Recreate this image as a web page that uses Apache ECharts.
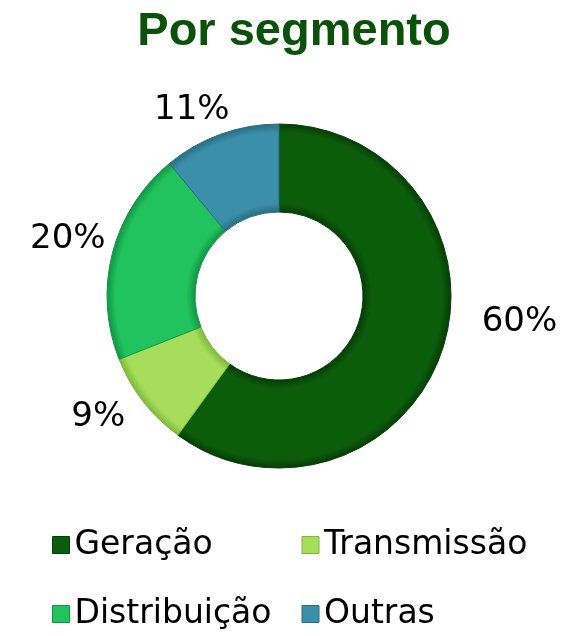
<!DOCTYPE html>
<html>
<head>
<meta charset="utf-8">
<style>
  html, body { margin: 0; padding: 0; background: #fff; }
  #chart { width: 567px; height: 636px; }
</style>
<script src="https://cdn.jsdelivr.net/npm/echarts@6/dist/echarts.min.js"></script>
</head>
<body>
<div id="chart"></div>
<script>
/* Donut "Por segmento" */
const segments = ['Geração', 'Transmissão', 'Distribuição', 'Outras'];
const shares = [60, 9, 20, 11];
const colors = ['#0b5c0b', '#a6de5c', '#20c35e', '#3b8fa9'];
const edges = ['#053d05', '#7fb83c', '#129545', '#2a6d82'];

const cx = 279, cy = 296, rIn = 84, rOut = 172;
// small nudges so the % labels sit where Excel put them
const labelNudge = [[30, -41], [-5, -11], [3, -3], [-9, 17]];

let chartDom = document.getElementById('chart');
let myChart = echarts.init(chartDom);

// shaded rim, like the bevel on the original
function rim(i) {
    const a = rIn / rOut;
    return {
        type: 'radial', x: cx, y: cy, r: rOut, global: true,
        colorStops: [
            { offset: 0, color: edges[i] },
            { offset: a, color: edges[i] },
            { offset: a + 0.05, color: colors[i] },
            { offset: 0.95, color: colors[i] },
            { offset: 1, color: edges[i] },
        ],
    };
}

let option = {
    animation: false,
    title: {
        text: 'Por segmento',
        left: 289,
        top: 4,
        textAlign: 'center',
        textStyle: {
            fontFamily: "'Liberation Sans', Arial, sans-serif",
            fontWeight: 'bold',
            fontSize: 47,
            color: '#0a5209',
        },
    },
    legend: {
        left: 47,
        top: 515,
        width: 520,
        itemWidth: 17,
        itemHeight: 17,
        itemGap: 19,
        icon: 'rect',
        selectedMode: false,
        textStyle: {
            fontFamily: "'DejaVu Sans', Verdana, sans-serif",
            fontSize: 33,
            color: '#000',
            width: 208,
            lineHeight: 50,
        },
        data: segments.map((name, i) => ({
            name: name,
            itemStyle: { color: colors[i], borderColor: edges[i], borderWidth: 1 },
        })),
    },
    series: [
        {
            name: 'Por segmento',
            type: 'pie',
            center: [cx, cy],
            radius: [rIn, rOut],
            startAngle: 90,
            clockwise: true,
            avoidLabelOverlap: false,
            label: {
                show: true,
                position: 'outside',
                formatter: '{c}%',
                fontFamily: "'DejaVu Sans', Verdana, sans-serif",
                fontSize: 34,
                color: '#000',
            },
            labelLine: { show: false, length: 44, length2: 0 },
            labelLayout: (params) => ({
                align: 'center',
                verticalAlign: 'middle',
                dx: labelNudge[params.dataIndex][0],
                dy: labelNudge[params.dataIndex][1],
            }),
            data: segments.map((name, i) => ({
                name: name,
                value: shares[i],
                itemStyle: { color: rim(i), borderColor: edges[i], borderWidth: 1 },
            })),
        },
    ],
};

option && myChart.setOption(option);
</script>
</body>
</html>
